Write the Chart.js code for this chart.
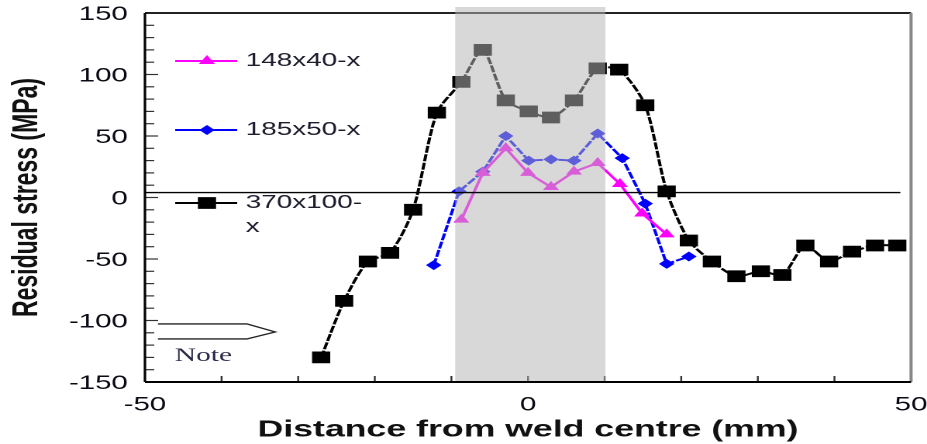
<!DOCTYPE html>
<html>
<head>
<meta charset="utf-8">
<script src="https://cdn.jsdelivr.net/npm/chart.js@4.4.1/dist/chart.umd.min.js"></script>
<style>
  html, body { margin: 0; padding: 0; background: #fff; overflow: hidden; }
  /* the source figure is stretched sideways, so the whole chart is drawn narrow and scaled */
  #wrap { width: 598px; height: 444px; transform: scaleX(1.5502); transform-origin: 0 0; }
</style>
</head>
<body>
<div id="wrap"><canvas id="stressChart"></canvas></div>
<script>
// Distance from weld centre (mm) and residual stress (MPa)
const x148 = [-8.7, -5.9, -2.9, 0, 3, 6, 9.1, 12, 14.9, 18.1];
const y148 = [-18, 20, 40, 20, 8.5, 21, 28, 11, -13, -30];

const x185 = [-12.3, -9, -5.9, -2.9, 0.1, 3, 6, 9.1, 12.3, 15.3, 18.1, 21];
const y185 = [-55, 5, 21, 50, 30, 31, 30, 52, 32, -5, -54, -48];

const x370 = [-27, -24, -20.9, -18, -15, -11.9, -8.7, -5.9, -2.9, 0.1, 3, 6, 9.1, 11.9, 15.3, 18.1, 21, 24, 27.2, 30.4, 33.2, 36.2, 39.3, 42.3, 45.3, 48.2];
const y370 = [-130, -84, -52, -45, -10, 69, 94, 120, 79, 70, 65, 79, 105, 104, 75, 5, -35, -52, -64, -60, -63, -39, -52, -44, -39, -39];

const seriesLabels = ["148x40-x", "185x50-x", "370x100-x"];
const xTicks = [-50, 0, 50];
const yTicks = [-150, -100, -50, 0, 50, 100, 150];
const weldZone = [-9.5, 10.1];
const refLineY = 4;

const FONT = "'Liberation Sans', Arial, sans-serif";

function pts(xs, ys) {
    return xs.map((x, i) => ({ x: x, y: ys[i] }));
}

function drawMarker(ctx, style, x, y, r, color) {
    ctx.save();
    ctx.fillStyle = color;
    ctx.beginPath();
    if (style === "rect") {
        const s = r * Math.SQRT1_2;
        ctx.rect(x - s, y - s, 2 * s, 2 * s);
    } else if (style === "triangle") {
        for (let k = 0; k < 3; k++) {
            const a = k * 2 * Math.PI / 3;
            const px = x + Math.sin(a) * r, py = y - Math.cos(a) * r;
            if (k === 0) ctx.moveTo(px, py); else ctx.lineTo(px, py);
        }
        ctx.closePath();
    } else {
        ctx.moveTo(x, y - r); ctx.lineTo(x + r, y); ctx.lineTo(x, y + r); ctx.lineTo(x - r, y);
        ctx.closePath();
    }
    ctx.fill();
    ctx.restore();
}

// frame with inward ticks, drawn under the data
const framePlugin = {
    id: "frame",
    beforeDatasetsDraw(chart) {
        const { ctx, chartArea: a, scales } = chart;
        ctx.save();
        ctx.strokeStyle = "#333";
        ctx.lineWidth = 1.2;
        for (let v = -150; v <= 150; v += 10) {
            const py = scales.y.getPixelForValue(v);
            const len = v % 50 === 0 ? 8.5 : 6;
            ctx.beginPath(); ctx.moveTo(a.left, py); ctx.lineTo(a.left + len, py); ctx.stroke();
        }
        for (let v = -40; v <= 40; v += 10) {
            const px = scales.x.getPixelForValue(v);
            ctx.beginPath(); ctx.moveTo(px, a.bottom); ctx.lineTo(px, a.bottom - 6); ctx.stroke();
        }
        ctx.lineWidth = 2;
        ctx.strokeStyle = "#222";
        ctx.beginPath(); ctx.moveTo(a.left, a.top); ctx.lineTo(a.right, a.top); ctx.stroke();
        ctx.strokeStyle = "#888";
        ctx.lineWidth = 2;
        ctx.beginPath(); ctx.moveTo(a.right, a.top); ctx.lineTo(a.right, a.bottom); ctx.stroke();
        ctx.strokeStyle = "#000";
        ctx.lineWidth = 1.6;
        ctx.beginPath(); ctx.moveTo(a.left, a.top); ctx.lineTo(a.left, a.bottom); ctx.stroke();
        ctx.lineWidth = 2;
        ctx.beginPath(); ctx.moveTo(a.left, a.bottom); ctx.lineTo(a.right, a.bottom); ctx.stroke();
        ctx.restore();
    },
    afterDatasetsDraw(chart) {
        const { ctx, chartArea: a, scales } = chart;
        const x = scales.x, y = scales.y;
        ctx.save();
        // weld zone shading sits over the curves
        const x0 = x.getPixelForValue(weldZone[0]), x1 = x.getPixelForValue(weldZone[1]);
        ctx.fillStyle = "rgba(180,180,180,0.52)";
        ctx.fillRect(x0, a.top - 6, x1 - x0, a.bottom - a.top + 5);

        // reference line near zero
        ctx.strokeStyle = "#000";
        ctx.lineWidth = 1.3;
        const ly = y.getPixelForValue(refLineY);
        ctx.beginPath(); ctx.moveTo(a.left, ly); ctx.lineTo(x.getPixelForValue(48.6), ly); ctx.stroke();

        // legend
        const rows = [61, 130, 203];
        chart.data.datasets.forEach((ds, i) => {
            const ry = rows[i];
            ctx.strokeStyle = ds.borderColor;
            ctx.lineWidth = 2;
            ctx.beginPath(); ctx.moveTo(113, ry); ctx.lineTo(153, ry); ctx.stroke();
            drawMarker(ctx, ds.pointStyle, 133.5, ry, ds.pointRadius, ds.borderColor);
            ctx.fillStyle = "#1c1c2c";
            ctx.font = "18px " + FONT;
            ctx.textBaseline = "middle";
            ctx.textAlign = "left";
            if (i === 2) {
                ctx.fillText("370x100-", 158.5, ry);
                ctx.fillText("x", 158.5, ry + 24);
            } else {
                ctx.fillText(ds.label, 158.5, ry);
            }
        });

        // hollow arrow and note in the lower left corner
        const ax0 = x.getPixelForValue(-48.3), ax1 = x.getPixelForValue(-36.7), ax2 = x.getPixelForValue(-33);
        const ay0 = y.getPixelForValue(-102.8), ay1 = y.getPixelForValue(-109.3), ay2 = y.getPixelForValue(-115);
        ctx.strokeStyle = "#222";
        ctx.lineWidth = 1.3;
        ctx.beginPath();
        ctx.moveTo(ax0, ay0); ctx.lineTo(ax1, ay0); ctx.lineTo(ax2, ay1); ctx.lineTo(ax1, ay2); ctx.lineTo(ax0, ay2);
        ctx.stroke();
        ctx.fillStyle = "#2a2a48";
        ctx.font = "19px 'Liberation Serif', 'Times New Roman', serif";
        ctx.textBaseline = "middle";
        ctx.fillText("Note", x.getPixelForValue(-46.1), y.getPixelForValue(-129));
        ctx.restore();
    }
};

const ctx = document.getElementById("stressChart").getContext("2d");
const stressChart = new Chart(ctx, {
    type: "line",
    data: {
        datasets: [
            {
                label: seriesLabels[0],
                data: pts(x148, y148),
                borderColor: "#ff00ff",
                backgroundColor: "#ff00ff",
                borderWidth: 2,
                pointStyle: "triangle",
                pointRadius: 6,
                pointBorderWidth: 0,
                tension: 0,
            },
            {
                label: seriesLabels[1],
                data: pts(x185, y185),
                borderColor: "#0000ff",
                backgroundColor: "#0000ff",
                borderWidth: 2,
                borderDash: [7, 1.5],
                pointStyle: "rectRot",
                pointRadius: 5,
                pointBorderWidth: 0,
                tension: 0,
            },
            {
                label: seriesLabels[2],
                data: pts(x370, y370),
                borderColor: "#000000",
                backgroundColor: "#000000",
                borderWidth: 2,
                borderDash: [7, 1.5],
                pointStyle: "rect",
                pointRadius: 8.3,
                pointBorderWidth: 0,
                tension: 0.25,
            },
        ],
    },
    options: {
        responsive: true,
        maintainAspectRatio: false,
        animation: false,
        devicePixelRatio: 2,
        layout: { padding: { top: 13, right: 10.3, left: 0, bottom: 0 } },
        plugins: {
            legend: { display: false },
            tooltip: { enabled: false },
        },
        scales: {
            x: {
                type: "linear",
                min: -50,
                max: 50,
                grid: { display: false, drawTicks: false },
                border: { display: false },
                afterBuildTicks: (s) => { s.ticks = xTicks.map(v => ({ value: v })); },
                ticks: { padding: 12, color: "#0a0a14", maxRotation: 0, font: { family: FONT, size: 19 } },
                title: {
                    display: true,
                    text: "Distance from weld centre (mm)",
                    color: "#111",
                    font: { family: FONT, size: 23, weight: "bold" },
                    padding: { top: 3, bottom: 0 },
                },
                afterFit: (s) => { s.height = 62; s.paddingLeft = 0; s.paddingRight = 0; },
            },
            y: {
                min: -150,
                max: 150,
                grid: { display: false, drawTicks: false },
                border: { display: false },
                afterBuildTicks: (s) => { s.ticks = yTicks.map(v => ({ value: v })); },
                ticks: { padding: 11, labelOffset: 2, color: "#0a0a14", font: { family: FONT, size: 19 } },
                title: {
                    display: true,
                    text: "Residual stress (MPa)",
                    color: "#111",
                    font: { family: FONT, size: 23, weight: "bold" },
                    padding: { top: 4, bottom: 0 },
                },
                afterFit: (s) => { s.width = 93.5; s.paddingTop = 0; s.paddingBottom = 0; },
            },
        },
    },
    plugins: [framePlugin],
});
</script>
</body>
</html>
